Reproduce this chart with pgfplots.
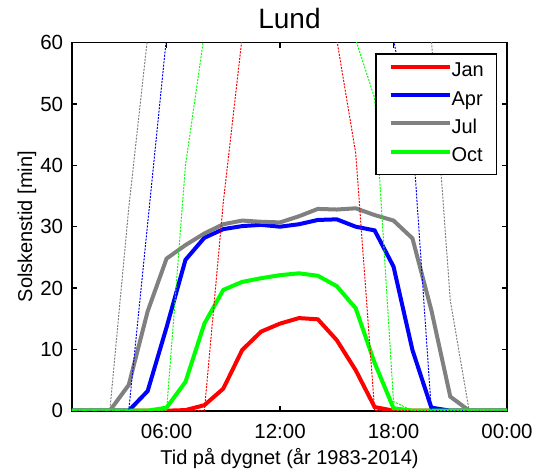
\documentclass[border=0pt]{standalone}
\usepackage{fontspec}
\setmainfont{Liberation Sans}
\usepackage{pgfplots}
\usepackage{pgfplotstable}
\pgfplotsset{compat=1.18}

\pgfplotstableread{
h jan apr jul oct
1 0 0 0 0
2 0 0 0 0
3 0 0 0 0
4 0 0 4.2 0
5 0 3.2 16.2 0
6 0 13.6 24.8 0.5
7 0.1 24.6 27.0 4.7
8 0.9 28.2 28.9 14.2
9 3.6 29.6 30.4 19.7
10 9.9 30.1 31.0 21.0
11 12.9 30.3 30.8 21.6
12 14.2 30.0 30.7 22.1
13 15.1 30.4 31.7 22.4
14 14.9 31.1 32.9 22.0
15 11.5 31.2 32.8 20.3
16 6.6 30.0 33.0 16.7
17 0.6 29.4 31.9 7.8
18 0 23.5 31.0 0.4
19 0 9.9 28.1 0
20 0 0.5 16.4 0
21 0 0 2.3 0
22 0 0 0 0
23 0 0 0 0
24 0 0 0 0
}\sunshine

\pgfplotstableread{
h jan apr jul oct
1 0 0 0 0
2 0 0 0 0
3 0 0 0 0
4 0 0 33 0
5 0 30.5 61 0
6 0 61 100 0
7 0 100 100 40
8 0 100 100 61.5
9 34 100 100 100
10 61 100 100 100
11 100 100 100 100
12 100 100 100 100
13 100 100 100 100
14 100 100 100 100
15 60.5 100 100 100
16 42 100 100 60.5
17 0 100 100 51
18 0 60.5 100 1.5
19 0 45 100 0
20 0 0 60.5 0
21 0 0 18 0
22 0 0 0 0
23 0 0 0 0
24 0 0 0 0
}\potential

\definecolor{mred}{RGB}{255,0,0}
\definecolor{mblue}{RGB}{0,0,255}
\definecolor{mgray}{RGB}{128,128,128}
\definecolor{mgreen}{RGB}{0,255,0}

\begin{document}
\begin{tikzpicture}
\path[use as bounding box] (-72bp,-60.3bp) rectangle (465bp,410.7bp);
\begin{axis}[
  at={(0,0)}, anchor=south west,
  scale only axis,
  width=435bp, height=368bp,
  xmin=1, xmax=24, ymin=0, ymax=60,
  xtick={6,12,18,24},
  xticklabels={06:00,12:00,18:00,00:00},
  ytick={0,10,20,30,40,50,60},
  tick align=inside,
  major tick length=5bp,
  every tick/.style={black, line width=1.1bp},
  axis line style={black, line width=1.6bp},
  /pgf/number format/assume math mode=true,
  tick label style={font=\fontsize{20.5bp}{24bp}\selectfont},
  xticklabel style={anchor=base, yshift=-27.3bp, inner sep=0pt},
  yticklabel style={anchor=east, xshift=-8.7bp, inner sep=0pt},
  title={Lund},
  title style={at={(axis description cs:0.5,1)}, anchor=base, yshift=8.4bp, inner sep=0pt, font=\fontsize{28bp}{32bp}\selectfont},
  xlabel={Tid på dygnet (år 1983-2014)},
  xlabel style={at={(axis description cs:0.5,0)}, anchor=base, yshift=-54bp, inner sep=0pt, font=\fontsize{20bp}{24bp}\selectfont},
  ylabel={Solskenstid [min]},
  ylabel style={at={(axis description cs:0,0.5)}, anchor=center, rotate=0, yshift=45bp, inner sep=0pt, font=\fontsize{20bp}{24bp}\selectfont},
  legend style={at={(axis description cs:1,1)}, anchor=north east, xshift=-9.7bp, yshift=-10.6bp,
    draw=black, line width=1.5bp, inner xsep=12.7bp, inner ysep=8.5bp, row sep=9.8bp,
    font=\fontsize{20bp}{24bp}\selectfont,
    nodes={inner sep=0pt, text height=14.3bp, text depth=4.2bp},
    /tikz/every even column/.append style={column sep=6.7bp}},
  legend cell align=left,
  legend image code/.code={\draw[#1] (0bp,5bp) -- (59bp,5bp);},
]
\addplot[mred, line width=4bp] table[x=h, y=jan] {\sunshine};
\addlegendentry{Jan}
\addplot[mblue, line width=4bp] table[x=h, y=apr] {\sunshine};
\addlegendentry{Apr}
\addplot[mgray, line width=4bp] table[x=h, y=jul] {\sunshine};
\addlegendentry{Jul}
\addplot[mgreen, line width=4bp] table[x=h, y=oct] {\sunshine};
\addlegendentry{Oct}
\addplot[forget plot, mred, line width=1bp, dash pattern=on 2bp off 1.3bp] table[x=h, y=jan] {\potential};
\addplot[forget plot, mblue, line width=1bp, dash pattern=on 2bp off 1.3bp] table[x=h, y=apr] {\potential};
\addplot[forget plot, mgray, line width=1bp, dash pattern=on 2bp off 1.3bp] table[x=h, y=jul] {\potential};
\addplot[forget plot, mgreen, line width=1bp, dash pattern=on 2bp off 1.3bp] table[x=h, y=oct] {\potential};
\end{axis}
\end{tikzpicture}
\end{document}
